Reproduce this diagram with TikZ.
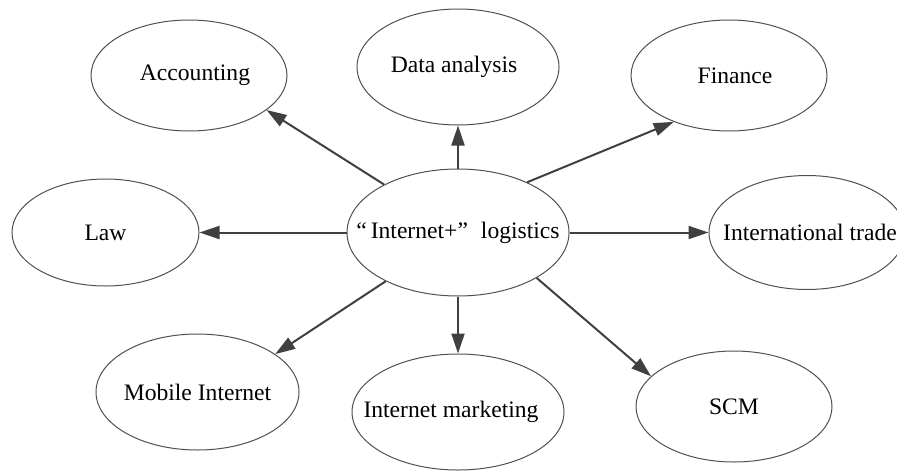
\documentclass[tikz,border=0pt]{standalone}
\usepackage{fontspec}
\setmainfont{Liberation Serif}
\usetikzlibrary{arrows.meta,positioning,shapes.geometric}
\definecolor{linkgray}{RGB}{64,64,64}
\definecolor{rimgray}{RGB}{80,80,80}
\newcommand{\bubtext}[1]{\makebox[0pt]{#1}}

\begin{document}
\begin{tikzpicture}[x=0.5pt, y=-0.5pt, every node/.style={font=\fontsize{11.8}{14}\selectfont},
    bubble/.style={draw=rimgray, line width=0.5pt, ellipse, inner sep=0pt},
    link/.style={draw=linkgray, line width=1pt, -{Triangle[length=10pt, width=6.5pt]}}]
    \useasboundingbox (0,0) rectangle (897,471);
    \node[bubble, minimum width=111pt, minimum height=63.5pt] (hub) at (458,232.5) {\bubtext{“\,Internet+”\hspace{0.3em} logistics}};
    \node[bubble, minimum width=101pt, minimum height=58pt, above=21.5pt of hub] (data) {\bubtext{\hspace{-4pt}Data analysis}};
    \node[bubble, minimum width=106pt, minimum height=58pt, below=28.5pt of hub] (mkt) {\bubtext{\hspace{-7pt}Internet marketing}};
    \node[bubble, minimum width=93.5pt, minimum height=53.5pt, left=73.5pt of hub] (law) {\bubtext{Law}};
    \node[bubble, minimum width=98pt, minimum height=57pt, right=69.5pt of hub] (trade) {\bubtext{\hspace{3pt}International trade}};
    \node[bubble, minimum width=98pt, minimum height=55.5pt] (acc) at (189,75.5) {\bubtext{\hspace{6pt}Accounting}};
    \node[bubble, minimum width=98pt, minimum height=55.5pt] (fin) at (729,75.5) {\bubtext{\hspace{6pt}Finance}};
    \node[bubble, minimum width=101.5pt, minimum height=58pt] (mob) at (197.5,392) {\bubtext{Mobile Internet}};
    \node[bubble, minimum width=98pt, minimum height=55.5pt] (scm) at (734,406.5) {\bubtext{SCM}};
    \draw[link] (hub.147) -- (acc.336);
    \draw[link] (hub.north) -- (data.south);
    \draw[link] (hub.36) -- (fin.220);
    \draw[link] (hub.west) -- (law.east);
    \draw[link] (hub.east) -- (trade.west);
    \draw[link] (hub.214) -- (mob.26);
    \draw[link] (hub.south) -- (mkt.north);
    \draw[link] (hub.330) -- (scm.160);
\end{tikzpicture}
\end{document}
